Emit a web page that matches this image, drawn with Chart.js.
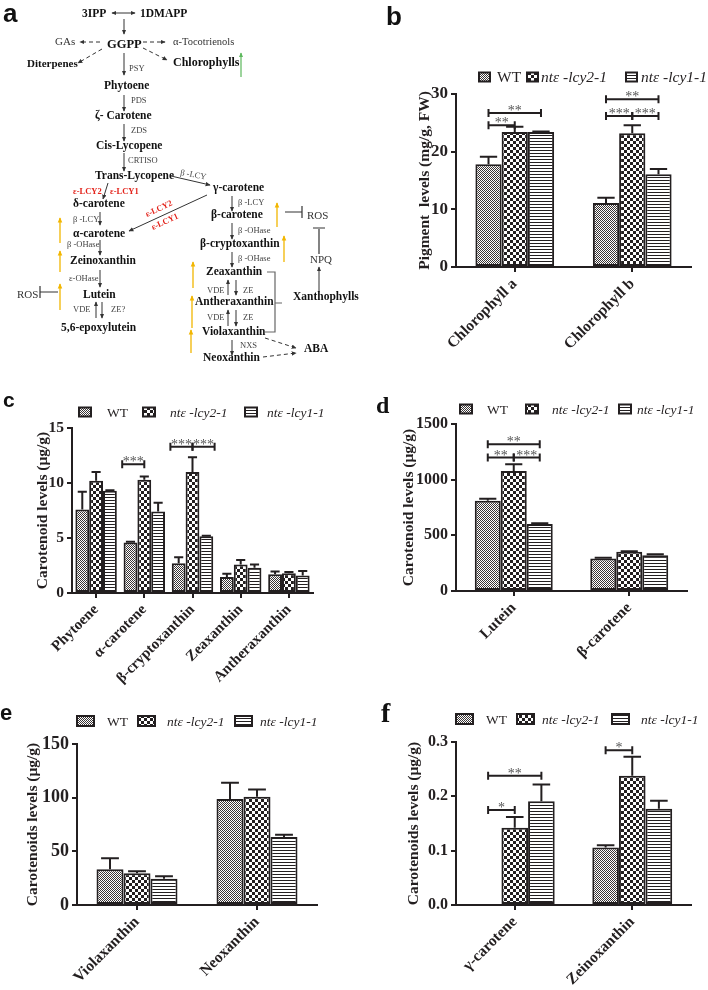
<!DOCTYPE html>
<html>
<head>
<meta charset="utf-8">
<script src="https://cdn.jsdelivr.net/npm/chart.js@4.4.1/dist/chart.umd.min.js"></script>
<style>
  body { margin: 0; background: #fff; }
  #page { position: relative; width: 708px; height: 990px; overflow: hidden; background: #fff; }
  canvas { position: absolute; }
  svg { position: absolute; left: 0; top: 0; }
</style>
</head>
<body>
<div id="page">
  <canvas id="chartB" width="354" height="380" style="left:354px;top:0px"></canvas>
  <canvas id="chartC" width="354" height="320" style="left:0px;top:380px"></canvas>
  <canvas id="chartD" width="354" height="320" style="left:354px;top:380px"></canvas>
  <canvas id="chartE" width="354" height="290" style="left:0px;top:700px"></canvas>
  <canvas id="chartF" width="354" height="290" style="left:354px;top:700px"></canvas>

  <svg width="708" height="990" viewBox="0 0 708 990">
    <defs>
      <marker id="ah" viewBox="0 0 8 8" refX="7" refY="4" markerWidth="5" markerHeight="5" orient="auto-start-reverse">
        <path d="M0,0.5 L8,4 L0,7.5 z" fill="#333"/>
      </marker>
      <marker id="ahy" viewBox="0 0 8 8" refX="7" refY="4" markerWidth="4" markerHeight="4" orient="auto">
        <path d="M0,0.5 L8,4 L0,7.5 z" fill="#f2b600"/>
      </marker>
      <marker id="ahg" viewBox="0 0 8 8" refX="7" refY="4" markerWidth="4" markerHeight="4" orient="auto">
        <path d="M0,0.5 L8,4 L0,7.5 z" fill="#5cb85c"/>
      </marker>
    </defs>

    <!-- panel letters -->
    <g font-family="Liberation Sans, Arial, sans-serif" font-weight="bold" fill="#111">
      <text x="3" y="22" font-size="26">a</text>
      <text x="386" y="25" font-size="26">b</text>
      <text x="3" y="407" font-size="21">c</text>
      <text x="0" y="720" font-size="22">e</text>
    </g>
    <g font-family="Liberation Serif, Times New Roman, serif" font-weight="bold" fill="#111">
      <text x="376" y="413" font-size="24">d</text>
      <text x="381" y="722" font-size="28">f</text>
    </g>

    <!-- pathway lines -->
    <g stroke="#333" stroke-width="1" fill="none" marker-end="url(#ah)">
      <line x1="124" y1="19" x2="124" y2="34"/>
      <line x1="124" y1="53" x2="124" y2="75"/>
      <line x1="124" y1="95" x2="124" y2="111"/>
      <line x1="124" y1="124" x2="124" y2="141"/>
      <line x1="124" y1="153" x2="124" y2="171"/>
      <line x1="171" y1="176" x2="210" y2="185"/>
      <line x1="108" y1="183" x2="103" y2="199"/>
      <line x1="100" y1="212" x2="100" y2="225"/>
      <line x1="207" y1="195" x2="129" y2="231"/>
      <line x1="100" y1="240" x2="100" y2="255"/>
      <line x1="100" y1="270" x2="100" y2="287"/>
      <line x1="96" y1="318" x2="96" y2="302"/>
      <line x1="102" y1="302" x2="102" y2="318"/>
      <line x1="232" y1="196" x2="232" y2="211"/>
      <line x1="232" y1="223" x2="232" y2="239"/>
      <line x1="232" y1="252" x2="232" y2="267"/>
      <line x1="228" y1="295" x2="228" y2="280"/>
      <line x1="236" y1="280" x2="236" y2="295"/>
      <line x1="228" y1="326" x2="228" y2="310"/>
      <line x1="236" y1="310" x2="236" y2="326"/>
      <line x1="232" y1="340" x2="232" y2="355"/>
      <line x1="319" y1="292" x2="319" y2="267"/>
      <line x1="112" y1="13" x2="135" y2="13" marker-start="url(#ah)"/>
    </g>
    <g stroke="#333" stroke-width="1" fill="none" stroke-dasharray="4,3" marker-end="url(#ah)">
      <line x1="100" y1="42" x2="80" y2="42"/>
      <line x1="143" y1="42" x2="165" y2="42"/>
      <line x1="102" y1="49" x2="78" y2="63"/>
      <line x1="143" y1="48" x2="167" y2="60"/>
      <line x1="265" y1="338" x2="296" y2="348"/>
      <line x1="263" y1="357" x2="296" y2="353"/>
    </g>
    <line x1="241" y1="77" x2="241" y2="53" stroke="#5cb85c" stroke-width="1.2" marker-end="url(#ahg)"/>
    <g stroke="#f2b600" stroke-width="1.3" fill="none" marker-end="url(#ahy)">
      <line x1="60" y1="243" x2="60" y2="218"/>
      <line x1="60" y1="272" x2="60" y2="251"/>
      <line x1="60" y1="310" x2="60" y2="284"/>
      <line x1="277" y1="227" x2="277" y2="203"/>
      <line x1="284" y1="262" x2="284" y2="236"/>
      <line x1="193" y1="288" x2="193" y2="262"/>
      <line x1="192" y1="328" x2="192" y2="296"/>
      <line x1="191" y1="353" x2="191" y2="330"/>
    </g>
    <g stroke="#333" stroke-width="1.2" fill="none">
      <path d="M40,292 H58 M40,286 V298"/>
      <path d="M285,212 H302 M302,206 V218"/>
      <path d="M319,254 V229 M313,228 H325"/>
      <path d="M267,272 H275 V332 H265 M275,303 H282" stroke="#666"/>
    </g>

    <!-- compounds -->
    <g font-family="Liberation Serif, Times New Roman, serif" font-weight="bold" font-size="11.5" fill="#111">
      <text x="82" y="17">3IPP</text>
      <text x="140" y="17">1DMAPP</text>
      <text x="107" y="48" font-size="12.5">GGPP</text>
      <text x="27" y="67" font-size="11">Diterpenes</text>
      <text x="173" y="66" font-size="12">Chlorophylls</text>
      <text x="104" y="89">Phytoene</text>
      <text x="95" y="119">ζ- Carotene</text>
      <text x="96" y="149">Cis-Lycopene</text>
      <text x="95" y="179">Trans-Lycopene</text>
      <text x="213" y="191">γ-carotene</text>
      <text x="73" y="207">δ-carotene</text>
      <text x="73" y="237">α-carotene</text>
      <text x="70" y="264">Zeinoxanthin</text>
      <text x="83" y="298">Lutein</text>
      <text x="61" y="331">5,6-epoxylutein</text>
      <text x="211" y="218">β-carotene</text>
      <text x="200" y="247">β-cryptoxanthin</text>
      <text x="206" y="275">Zeaxanthin</text>
      <text x="195" y="305">Antheraxanthin</text>
      <text x="202" y="335">Violaxanthin</text>
      <text x="203" y="361">Neoxanthin</text>
      <text x="293" y="300">Xanthophylls</text>
      <text x="304" y="352">ABA</text>
    </g>
    <g font-family="Liberation Serif, Times New Roman, serif" font-size="11" fill="#333">
      <text x="55" y="45">GAs</text>
      <text x="173" y="45" font-size="10.5">α-Tocotrienols</text>
      <text x="17" y="298">ROS</text>
      <text x="310" y="263">NPQ</text>
      <text x="307" y="219">ROS</text>
    </g>
    <!-- enzymes -->
    <g font-family="Liberation Serif, Times New Roman, serif" font-size="8.5" fill="#444">
      <text x="129" y="71">PSY</text>
      <text x="131" y="103">PDS</text>
      <text x="131" y="133">ZDS</text>
      <text x="128" y="163">CRTISO</text>
      <text x="180" y="175" transform="rotate(10 180 175)">β -LCY</text>
      <text x="73" y="222">β -LCY</text>
      <text x="67" y="247">β -OHase</text>
      <text x="69" y="281">ε-OHase</text>
      <text x="73" y="312">VDE</text>
      <text x="111" y="312">ZE?</text>
      <text x="238" y="205">β -LCY</text>
      <text x="238" y="233">β -OHase</text>
      <text x="238" y="261">β -OHase</text>
      <text x="207" y="293">VDE</text>
      <text x="243" y="293">ZE</text>
      <text x="207" y="320">VDE</text>
      <text x="243" y="320">ZE</text>
      <text x="240" y="348">NXS</text>
    </g>
    <g font-family="Liberation Serif, Times New Roman, serif" font-size="8.5" font-weight="bold" fill="#e3231b">
      <text x="73" y="194">ε-LCY2</text>
      <text x="110" y="194">ε-LCY1</text>
      <text x="160" y="211" text-anchor="middle" transform="rotate(-25 160 211)">ε-LCY2</text>
      <text x="166" y="224" text-anchor="middle" transform="rotate(-25 166 224)">ε-LCY1</text>
    </g>
  </svg>
</div>

<script>
// ---- shared series ----
const seriesNames = ['WT', 'ntε -lcy2-1', 'ntε -lcy1-1'];
const seriesItalic = [false, true, true];

// ---- b: pigments ----
const pigmentLabels = ['Chlorophyll a', 'Chlorophyll b'];
const pigmentWT = [17.8, 11.1];
const pigmentLcy2 = [23.4, 23.2];
const pigmentLcy1 = [23.4, 16.1];
const pigmentWTErr = [1.3, 0.9];
const pigmentLcy2Err = [0.9, 1.4];
const pigmentLcy1Err = [0.1, 0.9];
const pigmentTicks = [0, 10, 20, 30];
const pigmentSig = [
  { cat: 0, from: 0, to: 2, at: 26.7, stars: '**' },
  { cat: 0, from: 0, to: 1, at: 24.6, stars: '**' },
  { cat: 1, from: 0, to: 2, at: 29.1, stars: '**' },
  { cat: 1, from: 0, to: 1, at: 26.2, stars: '***' },
  { cat: 1, from: 1, to: 2, at: 26.2, stars: '***' }
];

// ---- c: carotenoids ----
const caroLabels = ['Phytoene', 'α-carotene', 'β-cryptoxanthin', 'Zeaxanthin', 'Antheraxanthin'];
const caroWT = [7.6, 4.6, 2.7, 1.45, 1.7];
const caroLcy2 = [10.2, 10.3, 11.0, 2.6, 1.8];
const caroLcy1 = [9.3, 7.4, 5.15, 2.3, 1.6];
const caroWTErr = [1.6, 0.05, 0.55, 0.3, 0.25];
const caroLcy2Err = [0.8, 0.3, 1.35, 0.4, 0.1];
const caroLcy1Err = [0.05, 0.8, 0.05, 0.3, 0.4];
const caroTicks = [0, 5, 10, 15];
const caroSig = [
  { cat: 1, from: 0, to: 1, at: 11.7, stars: '***' },
  { cat: 2, from: 0, to: 1, at: 13.3, stars: '***' },
  { cat: 2, from: 1, to: 2, at: 13.3, stars: '***' }
];

// ---- d: lutein / beta-carotene ----
const luteinLabels = ['Lutein', 'β-carotene'];
const luteinWT = [811, 293];
const luteinLcy2 = [1078, 353];
const luteinLcy1 = [602, 320];
const luteinWTErr = [18, 6];
const luteinLcy2Err = [60, 5];
const luteinLcy1Err = [6, 9];
const luteinTicks = [0, 500, 1000, 1500];
const luteinSig = [
  { cat: 0, from: 0, to: 2, at: 1317, stars: '**' },
  { cat: 0, from: 0, to: 1, at: 1198, stars: '**' },
  { cat: 0, from: 1, to: 2, at: 1198, stars: '***' }
];

// ---- e: violaxanthin / neoxanthin ----
const xanLabels = ['Violaxanthin', 'Neoxanthin'];
const xanWT = [33.2, 98.8];
const xanLcy2 = [29.5, 100.9];
const xanLcy1 = [24.5, 63.4];
const xanWTErr = [10.3, 15.2];
const xanLcy2Err = [1.9, 6.6];
const xanLcy1Err = [2.2, 2.1];
const xanTicks = [0, 50, 100, 150];
const xanSig = [];

// ---- f: gamma-carotene / zeinoxanthin ----
const gammaLabels = ['γ-carotene', 'Zeinoxanthin'];
const gammaWT = [null, 0.106];
const gammaLcy2 = [0.142, 0.238];
const gammaLcy1 = [0.191, 0.177];
const gammaWTErr = [null, 0.004];
const gammaLcy2Err = [0.02, 0.035];
const gammaLcy1Err = [0.031, 0.015];
const gammaTicks = [0, 0.1, 0.2, 0.3];
const gammaSig = [
  { cat: 0, from: 0, to: 2, at: 0.238, stars: '**' },
  { cat: 0, from: 0, to: 1, at: 0.175, stars: '*' },
  { cat: 1, from: 0, to: 1, at: 0.285, stars: '*' }
];

const ink = '#231f20';
const serif = '"Liberation Serif", "Times New Roman", serif';
Chart.defaults.font.family = serif;
Chart.defaults.color = ink;

// fill patterns: fine dots, checkerboard, horizontal stripes
function makePattern(kind) {
  const c = document.createElement('canvas');
  const g = c.getContext('2d');
  if (kind === 'dots') {
    c.width = 4; c.height = 4;
    g.fillStyle = '#fff'; g.fillRect(0, 0, 4, 4);
    g.fillStyle = '#3a3535';
    for (let y = 0; y < 4; y++) for (let x = 0; x < 4; x++) if ((x + y) % 2 === 0) g.fillRect(x, y, 1, 1);
  } else if (kind === 'checks') {
    c.width = 6; c.height = 6;
    g.fillStyle = '#fff'; g.fillRect(0, 0, 6, 6);
    g.fillStyle = ink; g.fillRect(0, 0, 3, 3); g.fillRect(3, 3, 3, 3);
  } else {
    c.width = 3; c.height = 3;
    g.fillStyle = '#fff'; g.fillRect(0, 0, 3, 3);
    g.fillStyle = ink; g.fillRect(0, 0, 3, 1);
  }
  return g.createPattern(c, 'repeat');
}
const patterns = [makePattern('dots'), makePattern('checks'), makePattern('stripes')];

function barCenter(chart, ds, cat) {
  const el = chart.getDatasetMeta(ds).data[cat];
  if (el && isFinite(el.x)) return el.x;
  const ref = chart.getDatasetMeta(1).data[cat];
  return ref.x + (ds - 1) * ref.width;
}

function barWidth(chart, cat) {
  return chart.getDatasetMeta(1).data[cat].width;
}

const errorBars = {
  id: 'errorBars',
  afterDatasetsDraw(chart) {
    const { ctx } = chart;
    const y = chart.scales.y;
    ctx.save();
    ctx.strokeStyle = ink;
    ctx.lineWidth = 2;
    chart.data.datasets.forEach((ds, i) => {
      chart.getDatasetMeta(i).data.forEach((bar, j) => {
        const v = ds.data[j], e = ds.errors[j];
        if (v == null || e == null) return;
        const top = y.getPixelForValue(v + e);
        const half = bar.width * 0.33;
        ctx.beginPath();
        ctx.moveTo(bar.x, bar.y);
        ctx.lineTo(bar.x, top);
        ctx.moveTo(bar.x - half, top);
        ctx.lineTo(bar.x + half, top);
        ctx.stroke();
      });
    });
    ctx.restore();
  }
};

// significance brackets; "reach" pushes the outer ends past the bar centres
const sigBars = {
  id: 'sigBars',
  afterDatasetsDraw(chart, args, opts) {
    const { ctx } = chart;
    const y = chart.scales.y;
    const reach = opts.reach || 0;
    ctx.save();
    (opts.items || []).forEach(it => {
      const w = barWidth(chart, it.cat) * reach;
      let xa = barCenter(chart, it.from, it.cat);
      let xb = barCenter(chart, it.to, it.cat);
      if (it.from === 0) xa -= w;
      if (it.to === 2) xb += w;
      const yy = y.getPixelForValue(it.at);
      ctx.strokeStyle = ink;
      ctx.lineWidth = 2;
      ctx.beginPath();
      ctx.moveTo(xa, yy); ctx.lineTo(xb, yy);
      ctx.moveTo(xa, yy - 4); ctx.lineTo(xa, yy + 4);
      ctx.moveTo(xb, yy - 4); ctx.lineTo(xb, yy + 4);
      ctx.stroke();
      ctx.fillStyle = '#555';
      ctx.font = '14px ' + serif;
      ctx.textAlign = 'center';
      ctx.textBaseline = 'alphabetic';
      ctx.fillText(it.stars, (xa + xb) / 2, yy + 2);
    });
    ctx.restore();
  }
};

const patLegend = {
  id: 'patLegend',
  afterDraw(chart, args, o) {
    const { ctx } = chart;
    ctx.save();
    chart.data.datasets.forEach((ds, i) => {
      const x = o.boxes[i];
      const top = o.y - o.bh / 2;
      ctx.fillStyle = ds.backgroundColor;
      ctx.fillRect(x, top, o.bw, o.bh);
      ctx.strokeStyle = ink;
      ctx.lineWidth = 2;
      ctx.strokeRect(x, top, o.bw, o.bh);
      ctx.fillStyle = ink;
      ctx.font = (seriesItalic[i] ? 'italic ' : '') + o.size + 'px ' + serif;
      ctx.textAlign = 'left';
      ctx.textBaseline = 'middle';
      ctx.fillText(ds.label, o.texts[i], o.y + 1);
    });
    ctx.restore();
  }
};

function barChart(id, o) {
  return new Chart(document.getElementById(id), {
    type: 'bar',
    data: {
      labels: o.labels,
      datasets: o.values.map((vals, i) => ({
        label: seriesNames[i],
        data: vals,
        errors: o.errors[i],
        backgroundColor: patterns[i],
        borderColor: ink,
        borderWidth: 2,
        borderSkipped: false,
        categoryPercentage: o.cat,
        barPercentage: 1
      }))
    },
    options: {
      responsive: false,
      animation: false,
      layout: { padding: { top: o.top, right: o.right, left: 0, bottom: 0 } },
      plugins: {
        legend: { display: false },
        tooltip: { enabled: false },
        patLegend: o.legend,
        sigBars: { items: o.sig, reach: o.reach || 0 }
      },
      scales: {
        x: {
          ticks: {
            font: { size: o.xFont, weight: 'bold' },
            color: ink,
            minRotation: 45,
            maxRotation: 45,
            padding: 3
          },
          grid: { offset: false, drawOnChartArea: false, tickLength: 5, color: ink, lineWidth: 2 },
          border: { color: ink, width: 2 },
          afterFit: s => { s.height = o.xh; }
        },
        y: {
          min: 0,
          max: o.ticks[o.ticks.length - 1],
          afterBuildTicks: s => { s.ticks = o.ticks.map(v => ({ value: v })); },
          ticks: {
            font: { size: o.yFont, weight: 'bold' },
            color: ink,
            padding: 3,
            callback: v => v.toFixed(o.decimals)
          },
          grid: { drawOnChartArea: false, tickLength: 5, color: ink, lineWidth: 2 },
          border: { color: ink, width: 2 },
          title: {
            display: true,
            text: o.title,
            color: ink,
            font: { size: 15.5, weight: 'bold' },
            padding: { top: o.titlePad, bottom: 0 }
          },
          afterFit: s => { s.width = o.yw; }
        }
      }
    },
    plugins: [errorBars, sigBars, patLegend]
  });
}

barChart('chartB', {
  labels: pigmentLabels,
  values: [pigmentWT, pigmentLcy2, pigmentLcy1],
  errors: [pigmentWTErr, pigmentLcy2Err, pigmentLcy1Err],
  ticks: pigmentTicks, decimals: 0, sig: pigmentSig,
  title: 'Pigment  levels (mg/g, FW)',
  top: 94, right: 17, yw: 102, xh: 113, cat: 0.67, titlePad: 62,
  xFont: 15.5, yFont: 17,
  legend: { boxes: [125, 173, 272], texts: [143, 187, 287], y: 77, bw: 11, bh: 9, size: 15.5 }
});

barChart('chartC', {
  labels: caroLabels,
  values: [caroWT, caroLcy2, caroLcy1],
  errors: [caroWTErr, caroLcy2Err, caroLcy1Err],
  ticks: caroTicks, decimals: 0, sig: caroSig, reach: 0.6,
  title: 'Carotenoid levels (μg/g)',
  top: 48, right: 41, yw: 72, xh: 107, cat: 0.86, titlePad: 34,
  xFont: 15, yFont: 15.5,
  legend: { boxes: [79, 143, 245], texts: [107, 170, 267], y: 32, bw: 12, bh: 9, size: 13.5 }
});

barChart('chartD', {
  labels: luteinLabels,
  values: [luteinWT, luteinLcy2, luteinLcy1],
  errors: [luteinWTErr, luteinLcy2Err, luteinLcy1Err],
  ticks: luteinTicks, decimals: 0, sig: luteinSig,
  title: 'Carotenoid levels (μg/g)',
  top: 44, right: 21, yw: 102, xh: 109, cat: 0.675, titlePad: 46,
  xFont: 15.5, yFont: 16,
  legend: { boxes: [106, 172, 265], texts: [133, 198, 283], y: 29, bw: 12, bh: 9, size: 13.5 }
});

barChart('chartE', {
  labels: xanLabels,
  values: [xanWT, xanLcy2, xanLcy1],
  errors: [xanWTErr, xanLcy2Err, xanLcy1Err],
  ticks: xanTicks, decimals: 0, sig: xanSig,
  title: 'Carotenoids levels (μg/g)',
  top: 44, right: 37, yw: 77, xh: 85, cat: 0.675, titlePad: 24,
  xFont: 15.5, yFont: 18,
  legend: { boxes: [77, 138, 235], texts: [107, 167, 260], y: 21, bw: 17, bh: 10, size: 13.5 }
});

barChart('chartF', {
  labels: gammaLabels,
  values: [gammaWT, gammaLcy2, gammaLcy1],
  errors: [gammaWTErr, gammaLcy2Err, gammaLcy1Err],
  ticks: gammaTicks, decimals: 1, sig: gammaSig,
  title: 'Carotenoids levels (μg/g)',
  top: 42, right: 17, yw: 102, xh: 85, cat: 0.68, titlePad: 51,
  xFont: 15.5, yFont: 16,
  legend: { boxes: [102, 163, 258], texts: [132, 188, 287], y: 19, bw: 17, bh: 10, size: 13.5 }
});
</script>
</body>
</html>
